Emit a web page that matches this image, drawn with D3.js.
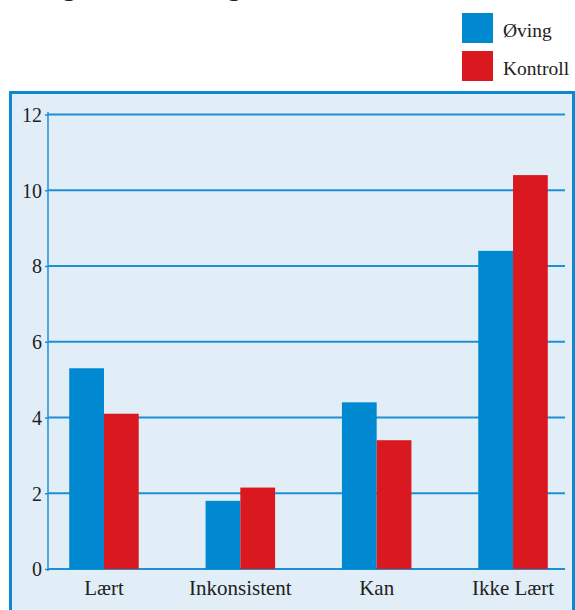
<!DOCTYPE html>
<html><head><meta charset="utf-8">
<script src="https://cdn.jsdelivr.net/npm/d3@7"></script>
</head><body style="margin:0">
<script>
const categories = ["Lært", "Inkonsistent", "Kan", "Ikke Lært"];
const seriesNames = ["Øving", "Kontroll"];
const oving = [5.3, 1.8, 4.4, 8.4];
const kontroll = [4.1, 2.15, 3.4, 10.4];
const yTicks = [0, 2, 4, 6, 8, 10, 12];
const colors = ["#0088d1", "#da1820"];

const W = 575, H = 610;
const FONT = '"Liberation Serif"';
const svg = d3.select("body").append("svg").attr("width", W).attr("height", H).style("display", "block");

// clipped title descenders (title lies above the visible area)
svg.append("text").attr("x", 62).attr("y", -5).style("font-family", FONT).style("font-size", "28px").attr("fill", "#222").text("g");
svg.append("text").attr("x", 227).attr("y", -5).style("font-family", FONT).style("font-size", "28px").attr("fill", "#222").text("g");

// frame
svg.append("rect").attr("x", 10.5).attr("y", 92.5).attr("width", 563).attr("height", 540)
  .attr("fill", "#e1eef8").attr("stroke", "#0a8ad3").attr("stroke-width", 3);

const y = d3.scaleLinear().domain([0, 12]).range([569, 114.5]);
const x0 = d3.scaleBand().domain(categories).range([35.8, 581.2]).padding(0);
const x1 = d3.scaleBand().domain(seriesNames).range([0, 69.5]);

// gridlines
svg.append("g").selectAll("line").data(yTicks).join("line")
  .attr("x1", 48).attr("x2", 565)
  .attr("y1", d => y(d)).attr("y2", d => y(d))
  .attr("stroke", "#1f8fd4").attr("stroke-width", 2);

// y axis
const yAxis = d3.axisLeft(y).tickValues(yTicks).tickSize(3).tickPadding(3).tickFormat(d3.format("d"));
const ga = svg.append("g").attr("transform", "translate(48,0)").call(yAxis);
ga.attr("font-family", "Liberation Serif").attr("font-size", 20);
ga.select(".domain").attr("stroke", "#1f8fd4").attr("stroke-width", 1.5).attr("d", `M0,${y(12)-2.5}V${y(0)+2}`);
ga.selectAll(".tick line").attr("stroke", "#1f8fd4").attr("stroke-width", 1.5);
ga.selectAll(".tick text").style("font-family", FONT).style("font-size", "20px").attr("fill", "#222").attr("dy", "0.34em");

// bars
const data = categories.map((c, i) => ({c, vals: [oving[i], kontroll[i]]}));
const groups = svg.append("g").selectAll("g").data(data).join("g")
  .attr("transform", d => `translate(${x0(d.c) + x0.bandwidth()/2 - 34.75},0)`);
groups.selectAll("rect").data(d => d.vals.map((v, j) => ({s: seriesNames[j], v, j}))).join("rect")
  .attr("x", d => x1(d.s)).attr("width", x1.bandwidth())
  .attr("y", d => y(d.v)).attr("height", d => y(0) - y(d.v))
  .attr("fill", d => colors[d.j]);

// x labels
svg.append("g").selectAll("text").data(categories).join("text")
  .attr("x", d => x0(d) + x0.bandwidth()/2).attr("y", 595)
  .attr("text-anchor", "middle").style("font-family", FONT).style("font-size", "21px").attr("fill", "#222")
  .text(d => d);

// legend
const lg = svg.append("g").selectAll("g").data(seriesNames).join("g")
  .attr("transform", (d, i) => `translate(462,${13 + i * 38})`);
lg.append("rect").attr("width", 31).attr("height", 30).attr("fill", (d, i) => colors[i]);
lg.append("text").attr("x", 41).attr("y", 23.5).style("font-family", FONT).style("font-size", "19.5px").attr("fill", "#222").text(d => d);
</script>
</body></html>
